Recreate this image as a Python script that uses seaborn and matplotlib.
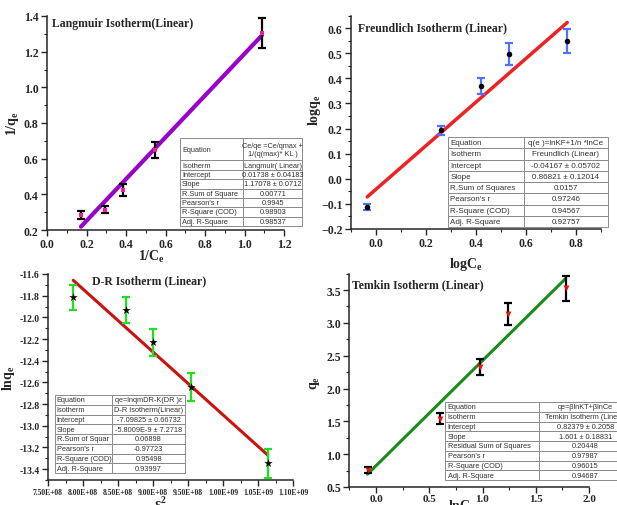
import numpy as np
import matplotlib
matplotlib.use('Agg')
import matplotlib.pyplot as plt
import seaborn as sns
from matplotlib.table import Table
from matplotlib.ticker import AutoMinorLocator, MultipleLocator, FuncFormatter

# data
lang_x = [0.172, 0.294, 0.383, 0.547, 1.088]
lang_y = [0.284, 0.314, 0.426, 0.649, 1.302]
lang_err = [0.021, 0.02, 0.033, 0.045, 0.084]
lang_fit = (0.01738, 1.17078)
lang_tab = [["Equation", "Ce/qe =Ce/qmax +\n1/(q(max)* KL )"],
            ["Isotherm", "Langmuir( Linear)"],
            ["Intercept", "0.01738 ± 0.04183"],
            ["Slope", "1.17078 ± 0.0712"],
            ["R.Sum of Square", "0.00771"],
            ["Pearson's r", "0.9945"],
            ["R-Square (COD)", "0.98903"],
            ["Adj. R-Square", "0.98537"]]

fr_x = [-0.035, 0.259, 0.418, 0.531, 0.765]
fr_y = [-0.113, 0.193, 0.371, 0.498, 0.549]
fr_err = [0.012, 0.018, 0.032, 0.044, 0.046]
fr_fit = (-0.04167, 0.86821)
fr_tab = [["Equation", "q(e )=lnKF+1/n *lnCe"],
          ["Isotherm", "Freundlich (Linear)"],
          ["Intercept", "-0.04167 ± 0.05702"],
          ["Slope", "0.86821 ± 0.12014"],
          ["R.Sum of Squares", "0.0157"],
          ["Pearson's r", "0.97246"],
          ["R-Square (COD)", "0.94567"],
          ["Adj. R-Square", "0.92757"]]

dr_x = [7.86e8, 8.61e8, 9.0e8, 9.54e8, 1.064e9]
dr_y = [-11.815, -11.93, -12.23, -12.646, -13.345]
dr_err = [0.118, 0.118, 0.123, 0.129, 0.134]
dr_fit = (-7.09825, -5.8009e-9)
dr_tab = [["Equation", "qe=lnqmDR-K(DR )ε"],
          ["Isotherm", "D-R Isotherm(Linear)"],
          ["Intercept", "-7.09825 ± 0.66732"],
          ["Slope", "-5.8009E-9 ± 7.2718"],
          ["R.Sum of Squar", "0.06898"],
          ["Pearson's r", "-0.97723"],
          ["R-Square (COD)", "0.95498"],
          ["Adj. R-Square", "0.93997"]]

tk_x = [-0.08, 0.602, 0.972, 1.237, 1.78]
tk_y = [0.759, 1.541, 2.333, 3.139, 3.525]
tk_err = [0.05, 0.086, 0.124, 0.17, 0.185]
tk_fit = (0.82379, 1.601)
tk_tab = [["Equation", "qe=βlnKT+βlnCe"],
          ["Isotherm", "Temkin Isotherm (Linear)"],
          ["Intercept", "0.82379 ± 0.2058"],
          ["Slope", "1.601 ± 0.18831"],
          ["Residual Sum of Squares", "0.20448"],
          ["Pearson's r", "0.97987"],
          ["R-Square (COD)", "0.96015"],
          ["Adj. R-Square", "0.94687"]]

sns.set_style('ticks')
plt.rcParams['font.family'] = ['Liberation Serif', 'DejaVu Serif']
plt.rcParams['font.weight'] = 'bold'
plt.rcParams['mathtext.fontset'] = 'custom'
plt.rcParams['mathtext.rm'] = 'Liberation Serif:bold'
plt.rcParams['mathtext.it'] = 'Liberation Serif:bold'
plt.rcParams['mathtext.bf'] = 'Liberation Serif:bold'

W, H = 617, 506
fig = plt.figure(figsize=(W / 100, H / 100), dpi=100)


def box(l, t, r, b):
    # pixel box -> figure fraction
    return [l / W, (H - b) / H, (r - l) / W, (b - t) / H]


def panel(rect, x, y, err, fit, mcolor, marker, msize, ecolor, lcolor, lw):
    ax = fig.add_axes(rect)
    xs = np.array([min(x), max(x)])
    sns.lineplot(x=xs, y=fit[0] + fit[1] * xs, color=lcolor, linewidth=lw, ax=ax, zorder=2)
    ax.errorbar(x, y, yerr=err, fmt='none', ecolor=ecolor, elinewidth=1.6,
                capsize=2.8, capthick=1.6, zorder=3)
    sns.scatterplot(x=x, y=y, marker=marker, color=mcolor, s=msize, linewidth=0,
                    ax=ax, zorder=4)
    sns.despine(ax=ax)
    for s in ['left', 'bottom']:
        ax.spines[s].set_linewidth(1.1)
    ax.tick_params(which='major', direction='out', length=4, width=1, labelsize=8.5, pad=2)
    ax.tick_params(which='minor', direction='out', length=2, width=0.8)
    ax.xaxis.set_minor_locator(AutoMinorLocator(2))
    ax.yaxis.set_minor_locator(AutoMinorLocator(2))
    return ax


def table(rect, rows, col_frac, row_h, fs):
    tax = fig.add_axes(rect)
    tax.axis('off')
    tb = Table(tax, bbox=[0, 0, 1, 1])
    for i, (a, b) in enumerate(rows):
        h = row_h[i]
        c0 = tb.add_cell(i, 0, col_frac, h, text=a, loc='left', edgecolor='#8a8a8a')
        c1 = tb.add_cell(i, 1, 1 - col_frac, h, text=b, loc='center', edgecolor='#8a8a8a')
        for c in (c0, c1):
            c.PAD = 0.03
            c.set_linewidth(0.7)
            c.get_text().set_fontfamily(['Liberation Sans', 'DejaVu Sans'])
            c.get_text().set_fontweight('normal')
            c.get_text().set_color('#333333')
    tb.auto_set_font_size(False)
    tb.set_fontsize(fs)
    tb.set_clip_on(False)
    tax.add_table(tb)
    return tax


# Langmuir
ax1 = panel(box(47, 17, 284, 231), lang_x, lang_y, lang_err, lang_fit,
            '#ff1a8c', 's', 8, 'black', '#9900cc', 3)
ax1.set_xlim(0, 1.2)
ax1.set_ylim(0.2, 1.4)
ax1.xaxis.set_major_locator(MultipleLocator(0.2))
ax1.yaxis.set_major_locator(MultipleLocator(0.2))
ax1.set_xlabel(r'$\mathbf{1/C_e}$', fontsize=10)
ax1.set_ylabel(r'$\mathbf{1/q_e}$', fontsize=10)
ax1.xaxis.set_label_coords(0.44, -0.085)
ax1.yaxis.set_label_coords(-0.11, 0.5)
ax1.text(0.02, 0.965, 'Langmuir Isotherm(Linear)', transform=ax1.transAxes,
         fontsize=8.5, va='center', ha='left')
table(box(180, 139, 302, 227), lang_tab, 0.52, [2.4, 1, 1, 1, 1, 1, 1, 1], 5.3)

# Freundlich
ax2 = panel(box(351, 16.6, 601, 230), fr_x, fr_y, fr_err, fr_fit,
            'black', 'o', 16, '#5070ff', '#ee2222', 2.5)
ax2.set_xlim(-0.1, 0.9)
ax2.set_ylim(-0.2, 0.65)
ax2.xaxis.set_major_locator(MultipleLocator(0.2))
ax2.yaxis.set_major_locator(MultipleLocator(0.1))
ax2.set_xlabel(r'$\mathbf{logC_e}$', fontsize=10)
ax2.set_ylabel(r'$\mathbf{logq_e}$', fontsize=10)
ax2.xaxis.set_label_coords(0.46, -0.12)
ax2.yaxis.set_label_coords(-0.112, 0.56)
ax2.text(0.03, 0.945, 'Freundlich Isotherm (Linear)', transform=ax2.transAxes,
         fontsize=8.5, va='center', ha='left')
table(box(448, 138, 608, 228), fr_tab, 0.475, [1] * 8, 5.8)

# D-R
ax3 = panel(box(48, 275, 293, 481), dr_x, dr_y, dr_err, dr_fit,
            'black', '*', 40, '#22dd22', '#cc1111', 2.2)
ax3.set_xlim(7.5e8, 1.1e9)
ax3.set_ylim(-13.5, -11.6)
ax3.xaxis.set_major_locator(MultipleLocator(0.5e8))
ax3.yaxis.set_major_locator(MultipleLocator(0.2))
ax3.xaxis.set_major_formatter(FuncFormatter(lambda v, p: f'{v:.2E}'))
ax3.yaxis.set_major_formatter(FuncFormatter(lambda v, p: f'{v:.1f}'))
ax3.tick_params(axis='x', labelsize=5.5)
ax3.tick_params(axis='y', labelsize=7)
ax3.set_xlabel(r'$\mathbf{\varepsilon^2}$', fontsize=10)
ax3.set_ylabel(r'$\mathbf{lnq_e}$', fontsize=10)
ax3.xaxis.set_label_coords(0.46, -0.075)
ax3.yaxis.set_label_coords(-0.125, 0.5)
ax3.text(0.18, 0.97, 'D-R Isotherm (Linear)', transform=ax3.transAxes,
         fontsize=8.5, va='center', ha='left')
table(box(55, 396, 185, 474), dr_tab, 0.44, [1] * 8, 5.3)

# Temkin
ax4 = panel(box(349.4, 274.6, 589, 488), tk_x, tk_y, tk_err, tk_fit,
            '#ee1111', 'v', 18, 'black', '#1a8c1a', 2.2)
ax4.set_xlim(-0.25, 2.0)
ax4.set_ylim(0.5, 3.75)
ax4.xaxis.set_major_locator(MultipleLocator(0.5))
ax4.yaxis.set_major_locator(MultipleLocator(0.5))
ax4.tick_params(axis='x', pad=1, labelsize=8)
ax4.set_xlabel(r'$\mathbf{lnC_e}$', fontsize=10)
ax4.set_ylabel(r'$\mathbf{q_e}$', fontsize=10)
ax4.xaxis.set_label_coords(0.47, -0.05)
ax4.yaxis.set_label_coords(-0.114, 0.49)
ax4.text(0.01, 0.95, 'Temkin Isotherm (Linear)', transform=ax4.transAxes,
         fontsize=8.5, va='center', ha='left')
table(box(445, 403, 632, 481), tk_tab, 0.5, [1] * 8, 5.3)

fig.savefig('out.png', dpi=100)
